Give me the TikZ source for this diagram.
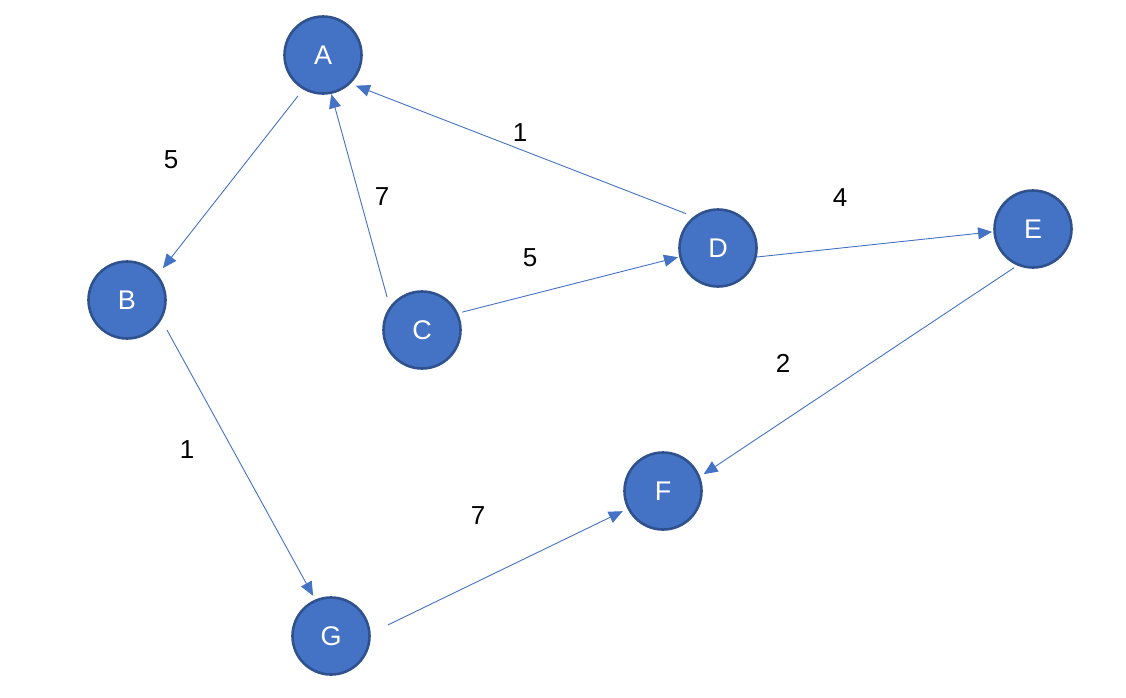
\documentclass[tikz,border=0pt]{standalone}
\usepackage{fontspec}
\setmainfont{Liberation Sans}
\usetikzlibrary{arrows.meta}
\definecolor{nodefill}{HTML}{4472C4}
\definecolor{nodeedge}{HTML}{2F528F}
\definecolor{edgecol}{HTML}{4472C4}
\tikzset{
  vertex/.style={circle, fill=nodefill, draw=nodeedge, line width=2.6pt, minimum size=77pt, inner sep=0pt, text=white, font=\fontsize{27}{27}\selectfont},
  edge/.style={draw=edgecol, line width=0.9pt, -{Triangle[length=14pt,width=12pt]}},
  wlabel/.style={text=black, font=\fontsize{26}{26}\selectfont, inner sep=0pt}
}
\begin{document}
\begin{tikzpicture}[x=1pt,y=-1pt]
\useasboundingbox (0,0) rectangle (1126,697);
\node[vertex] (A) at (323,55) {A};
\node[vertex] (B) at (127,300) {B};
\node[vertex] (C) at (422,330) {C};
\node[vertex] (D) at (718,248) {D};
\node[vertex] (E) at (1033,229) {E};
\node[vertex] (F) at (663,491) {F};
\node[vertex] (G) at (331,636) {G};

\draw[edge] ([shift={(238.6:48pt)}]A.center) -- ([shift={(41.6:48pt)}]B.center);
\draw[edge] ([shift={(-36.9:50pt)}]B.center) -- ([shift={(114:44pt)}]G.center);
\draw[edge] ([shift={(11:58pt)}]G.center) -- ([shift={(206.6:45pt)}]F.center);
\draw[edge] ([shift={(244:43pt)}]E.center) -- ([shift={(22.5:44pt)}]F.center);
\draw[edge] ([shift={(136.7:48pt)}]C.center) -- ([shift={(-78:40pt)}]A.center);
\draw[edge] ([shift={(133:47pt)}]D.center) -- ([shift={(-43:45pt)}]A.center);
\draw[edge] ([shift={(24:44pt)}]C.center) -- ([shift={(193:41pt)}]D.center);
\draw[edge] ([shift={(-13:40pt)}]D.center) -- ([shift={(184:41pt)}]E.center);

\node[wlabel] (l1) at (171,160) {5};
\node[wlabel] (l2) at (382,197) {7};
\node[wlabel] (l3) at (520,133) {1};
\node[wlabel] (l4) at (530,258) {5};
\node[wlabel] (l5) at (840,198) {4};
\node[wlabel] (l6) at (783,363) {2};
\node[wlabel] (l7) at (187,450) {1};
\node[wlabel] (l8) at (478,516) {7};
\end{tikzpicture}
\end{document}
